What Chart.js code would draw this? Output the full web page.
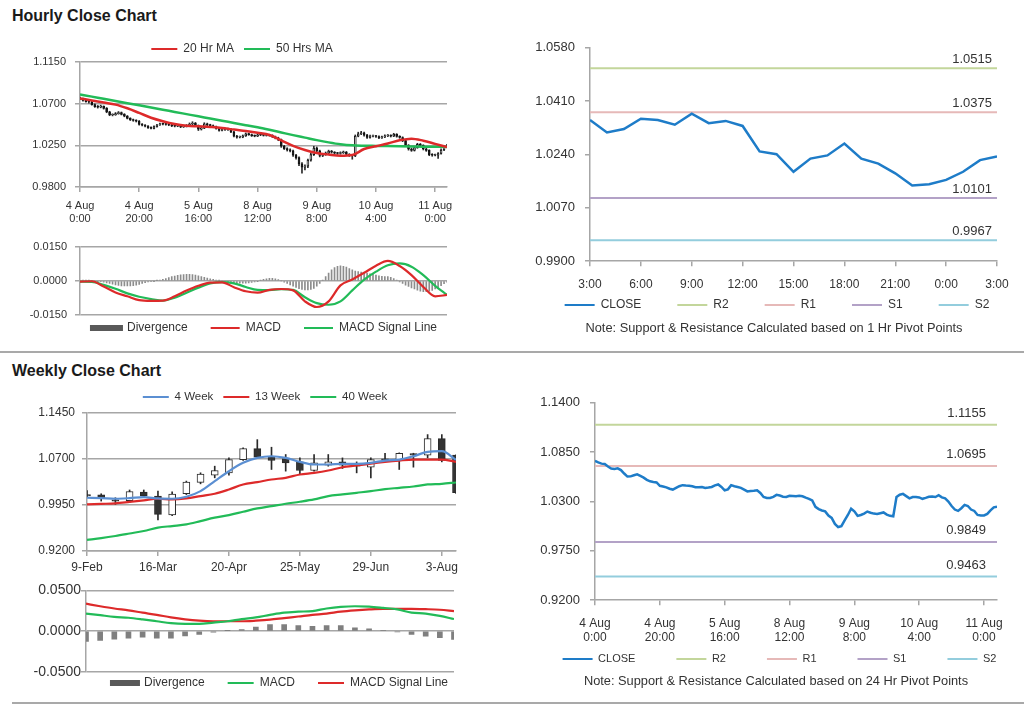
<!DOCTYPE html>
<html>
<head>
<meta charset="utf-8">
<title>Hourly and Weekly Close Charts</title>
<script src="https://cdn.jsdelivr.net/npm/chart.js@4.4.1/dist/chart.umd.min.js"></script>
<style>
  html, body { margin: 0; padding: 0; background: #fff; }
  body { position: relative; width: 1024px; height: 706px; overflow: hidden; font-family: "Liberation Sans", Arial, sans-serif; }
  canvas { position: absolute; }
  .heading { position: absolute; left: 12px; margin: 0; font-size: 16px; font-weight: bold; color: #1a1a1a; line-height: normal; }
  .rule { position: absolute; height: 2px; background: #a9a9a9; }
</style>
</head>
<body>
<h2 class="heading" style="top:7px">Hourly Close Chart</h2>
<h2 class="heading" style="top:362px">Weekly Close Chart</h2>
<div class="rule" style="left:0; top:351px; width:1024px"></div>
<div class="rule" style="left:12px; top:702px; width:1012px"></div>

<canvas id="hourlyCandles" width="484" height="200" style="left:0; top:30px"></canvas>
<canvas id="hourlyMacd" width="484" height="108" style="left:0; top:232px"></canvas>
<canvas id="hourlyPivot" width="624" height="312" style="left:400px; top:30px"></canvas>
<canvas id="weeklyCandles" width="470" height="200" style="left:0; top:380px"></canvas>
<canvas id="weeklyMacd" width="470" height="118" style="left:0; top:582px"></canvas>
<canvas id="dailyPivot" width="624" height="315" style="left:400px; top:385px"></canvas>

<script>
// ---- hourly bars, 4 Aug 0:00 .. 11 Aug 4:00 (one entry per trading hour)
const hourlyTickLabels = [['4 Aug', '0:00'], ['4 Aug', '20:00'], ['5 Aug', '16:00'], ['8 Aug', '12:00'], ['9 Aug', '8:00'], ['10 Aug', '4:00'], ['11 Aug', '0:00']];
const hoursPerTick = 20;
const hourlyPriceTicks = [0.9800, 1.0250, 1.0700, 1.1150];

const hourlyOpen = [
  1.0760, 1.0753, 1.0735, 1.0722, 1.0718, 1.0690, 1.0668, 1.0663, 1.0670, 1.0650,
  1.0612, 1.0578, 1.0580, 1.0592, 1.0603, 1.0585, 1.0566, 1.0541, 1.0525, 1.0518,
  1.0512, 1.0475, 1.0468, 1.0458, 1.0442, 1.0433, 1.0452, 1.0470, 1.0482, 1.0478,
  1.0476, 1.0470, 1.0460, 1.0458, 1.0462, 1.0450, 1.0455, 1.0462, 1.0480, 1.0490,
  1.0462, 1.0425, 1.0435, 1.0482, 1.0470, 1.0462, 1.0452, 1.0432, 1.0412, 1.0418,
  1.0420, 1.0425, 1.0395, 1.0350, 1.0339, 1.0339, 1.0352, 1.0374, 1.0366, 1.0354,
  1.0350, 1.0363, 1.0362, 1.0358, 1.0363, 1.0358, 1.0343, 1.0330, 1.0312, 1.0240,
  1.0215, 1.0200, 1.0190, 1.0143, 1.0117, 1.0050, 1.0015, 1.0025, 1.0090, 1.0150,
  1.0220, 1.0190, 1.0140, 1.0150, 1.0166, 1.0188, 1.0175, 1.0165, 1.0162, 1.0170,
  1.0178, 1.0154, 1.0140, 1.0135, 1.0350, 1.0375, 1.0385, 1.0360, 1.0335, 1.0350,
  1.0350, 1.0345, 1.0330, 1.0340, 1.0352, 1.0356, 1.0350, 1.0370, 1.0346, 1.0335,
  1.0300, 1.0250, 1.0210, 1.0195, 1.0225, 1.0262, 1.0250, 1.0210, 1.0195, 1.0150,
  1.0143, 1.0145, 1.0162, 1.0200, 1.0235];
const hourlyHigh = [
  1.0772, 1.0760, 1.0742, 1.0731, 1.0725, 1.0698, 1.0680, 1.0684, 1.0676, 1.0658,
  1.0618, 1.0590, 1.0604, 1.0615, 1.0610, 1.0592, 1.0572, 1.0548, 1.0534, 1.0526,
  1.0518, 1.0484, 1.0475, 1.0464, 1.0450, 1.0460, 1.0478, 1.0490, 1.0491, 1.0486,
  1.0484, 1.0477, 1.0469, 1.0472, 1.0470, 1.0464, 1.0474, 1.0492, 1.0505, 1.0497,
  1.0470, 1.0448, 1.0494, 1.0490, 1.0478, 1.0470, 1.0458, 1.0440, 1.0428, 1.0430,
  1.0436, 1.0430, 1.0402, 1.0358, 1.0350, 1.0362, 1.0384, 1.0382, 1.0372, 1.0362,
  1.0372, 1.0371, 1.0369, 1.0372, 1.0370, 1.0364, 1.0350, 1.0338, 1.0318, 1.0250,
  1.0224, 1.0212, 1.0198, 1.0152, 1.0125, 1.0065, 1.0040, 1.0102, 1.0165, 1.0240,
  1.0232, 1.0198, 1.0162, 1.0178, 1.0198, 1.0195, 1.0182, 1.0174, 1.0180, 1.0188,
  1.0184, 1.0160, 1.0150, 1.0362, 1.0392, 1.0400, 1.0392, 1.0368, 1.0360, 1.0361,
  1.0358, 1.0352, 1.0350, 1.0364, 1.0366, 1.0364, 1.0380, 1.0376, 1.0354, 1.0342,
  1.0308, 1.0258, 1.0220, 1.0236, 1.0272, 1.0270, 1.0256, 1.0218, 1.0202, 1.0160,
  1.0156, 1.0172, 1.0212, 1.0245, 1.0262];
const hourlyLow = [
  1.0745, 1.0728, 1.0715, 1.0706, 1.0684, 1.0660, 1.0652, 1.0655, 1.0641, 1.0602,
  1.0570, 1.0568, 1.0574, 1.0586, 1.0578, 1.0558, 1.0535, 1.0518, 1.0510, 1.0502,
  1.0468, 1.0460, 1.0450, 1.0434, 1.0426, 1.0428, 1.0446, 1.0465, 1.0470, 1.0468,
  1.0462, 1.0452, 1.0449, 1.0451, 1.0441, 1.0443, 1.0448, 1.0456, 1.0472, 1.0452,
  1.0410, 1.0415, 1.0430, 1.0461, 1.0452, 1.0444, 1.0424, 1.0404, 1.0405, 1.0410,
  1.0412, 1.0386, 1.0340, 1.0328, 1.0330, 1.0332, 1.0346, 1.0358, 1.0346, 1.0342,
  1.0344, 1.0354, 1.0350, 1.0350, 1.0349, 1.0335, 1.0320, 1.0300, 1.0228, 1.0205,
  1.0188, 1.0178, 1.0130, 1.0100, 1.0030, 0.9950, 0.9985, 1.0010, 1.0080, 1.0140,
  1.0175, 1.0125, 1.0128, 1.0142, 1.0160, 1.0166, 1.0156, 1.0152, 1.0154, 1.0162,
  1.0146, 1.0130, 1.0100, 1.0128, 1.0342, 1.0366, 1.0350, 1.0326, 1.0328, 1.0340,
  1.0336, 1.0322, 1.0324, 1.0334, 1.0344, 1.0340, 1.0344, 1.0338, 1.0326, 1.0290,
  1.0238, 1.0198, 1.0185, 1.0188, 1.0218, 1.0240, 1.0200, 1.0185, 1.0138, 1.0132,
  1.0135, 1.0110, 1.0155, 1.0192, 1.0228];
const hourlyClose = [
  1.0753, 1.0735, 1.0722, 1.0718, 1.0690, 1.0668, 1.0663, 1.0670, 1.0650, 1.0612,
  1.0578, 1.0580, 1.0592, 1.0603, 1.0585, 1.0566, 1.0541, 1.0525, 1.0518, 1.0512,
  1.0475, 1.0468, 1.0458, 1.0442, 1.0433, 1.0452, 1.0470, 1.0482, 1.0478, 1.0476,
  1.0470, 1.0460, 1.0458, 1.0462, 1.0450, 1.0455, 1.0462, 1.0480, 1.0490, 1.0462,
  1.0425, 1.0435, 1.0482, 1.0470, 1.0462, 1.0452, 1.0432, 1.0412, 1.0418, 1.0420,
  1.0425, 1.0395, 1.0350, 1.0339, 1.0339, 1.0352, 1.0374, 1.0366, 1.0354, 1.0350,
  1.0363, 1.0362, 1.0358, 1.0363, 1.0358, 1.0343, 1.0330, 1.0312, 1.0240, 1.0215,
  1.0200, 1.0190, 1.0143, 1.0117, 1.0050, 1.0015, 1.0025, 1.0090, 1.0150, 1.0220,
  1.0190, 1.0140, 1.0150, 1.0166, 1.0188, 1.0175, 1.0165, 1.0162, 1.0170, 1.0178,
  1.0154, 1.0140, 1.0135, 1.0350, 1.0375, 1.0385, 1.0360, 1.0335, 1.0350, 1.0350,
  1.0345, 1.0330, 1.0340, 1.0352, 1.0356, 1.0350, 1.0370, 1.0346, 1.0335, 1.0300,
  1.0250, 1.0210, 1.0195, 1.0225, 1.0262, 1.0250, 1.0210, 1.0195, 1.0150, 1.0143,
  1.0145, 1.0162, 1.0200, 1.0235, 1.0243];

// moving averages and MACD read every 4th hour
const hoursPerReading = 4;
const hourlyMa20 = [1.0757, 1.0735, 1.0712, 1.0690, 1.0650, 1.0600, 1.0548, 1.0510, 1.0480, 1.0462, 1.0455, 1.0448, 1.0438, 1.0420, 1.0405, 1.0385,
  1.0362, 1.0303, 1.0245, 1.0200, 1.0168, 1.0150, 1.0137, 1.0145, 1.0210, 1.0240, 1.0270, 1.0305, 1.0322, 1.0300, 1.0266, 1.0232];
const hourlyMa50 = [1.0800, 1.0776, 1.0753, 1.0729, 1.0705, 1.0682, 1.0658, 1.0634, 1.0611, 1.0587, 1.0563, 1.0540, 1.0516, 1.0492, 1.0468, 1.0445,
  1.0418, 1.0389, 1.0360, 1.0333, 1.0306, 1.0282, 1.0262, 1.0250, 1.0246, 1.0244, 1.0242, 1.0240, 1.0238, 1.0236, 1.0235, 1.0233];
const hourlyMacdTicks = [-0.0150, 0.0000, 0.0150];
const hourlyMacd = [-0.0004, -0.0002, -0.0025, -0.0051, -0.0068, -0.0085, -0.0088, -0.0087, -0.0068, -0.0043, -0.0022, -0.0008, -0.0007, -0.0028, -0.0046, -0.0052,
  -0.0040, -0.0036, -0.0042, -0.0090, -0.0115, -0.0090, -0.0020, 0.0006, 0.0035, 0.0066, 0.0087, 0.0065, 0.0025, -0.0027, -0.0068, -0.0062];
const hourlySignal = [-0.0004, -0.0005, -0.0018, -0.0035, -0.0055, -0.0070, -0.0080, -0.0087, -0.0074, -0.0052, -0.0030, -0.0012, -0.0006, -0.0011, -0.0027, -0.0040,
  -0.0041, -0.0037, -0.0040, -0.0072, -0.0098, -0.0105, -0.0090, -0.0042, 0.0005, 0.0040, 0.0068, 0.0076, 0.0062, 0.0025, -0.0022, -0.0062];
const hourlyDivergence = [
  0.0000, 0.0001, 0.0001, 0.0001, 0.0000, -0.0001, -0.0002, -0.0004, -0.0006, -0.0009,
  -0.0012, -0.0015, -0.0018, -0.0020, -0.0022, -0.0023, -0.0023, -0.0022, -0.0021, -0.0019,
  -0.0016, -0.0012, -0.0008, -0.0005, -0.0003, -0.0001, 0.0001, 0.0003, 0.0006, 0.0010,
  0.0014, 0.0018, 0.0021, 0.0024, 0.0026, 0.0027, 0.0028, 0.0028, 0.0027, 0.0025,
  0.0022, 0.0019, 0.0015, 0.0012, 0.0009, 0.0006, 0.0003, 0.0001, -0.0001, -0.0003,
  -0.0005, -0.0007, -0.0008, -0.0009, -0.0010, -0.0010, -0.0010, -0.0009, -0.0007, -0.0005,
  -0.0002, 0.0002, 0.0006, 0.0009, 0.0011, 0.0011, 0.0009, 0.0005, 0.0000, -0.0006,
  -0.0012, -0.0018, -0.0024, -0.0029, -0.0034, -0.0038, -0.0040, -0.0040, -0.0038, -0.0033,
  -0.0024, -0.0012, 0.0002, 0.0018, 0.0034, 0.0048, 0.0058, 0.0064, 0.0066, 0.0064,
  0.0060, 0.0054, 0.0048, 0.0043, 0.0040, 0.0038, 0.0036, 0.0034, 0.0031, 0.0028,
  0.0025, 0.0022, 0.0020, 0.0019, 0.0018, 0.0015, 0.0010, 0.0003, -0.0005, -0.0012,
  -0.0019, -0.0025, -0.0031, -0.0036, -0.0041, -0.0045, -0.0048, -0.0048, -0.0046, -0.0042,
  -0.0036, -0.0029, -0.0021, -0.0013, -0.0006];

// ---- last 24 hours with 1 hr pivots
const pivotTickLabels = ['3:00', '6:00', '9:00', '12:00', '15:00', '18:00', '21:00', '0:00', '3:00'];
const hoursPerPivotTick = 3;
const hourPivotTicks = [0.9900, 1.0070, 1.0240, 1.0410, 1.0580];
const pivotHourClose = [1.0350, 1.0310, 1.0321, 1.0354, 1.0350, 1.0335, 1.0370, 1.0340, 1.0347, 1.0331, 1.0250, 1.0241, 1.0185,
  1.0227, 1.0237, 1.0275, 1.0227, 1.0211, 1.0180, 1.0141, 1.0145, 1.0159, 1.0185, 1.0222, 1.0234];
const pivotNames = ['R2', 'R1', 'S1', 'S2'];
const pivotColors = ['#c3d69b', '#e6b9b8', '#b3a2c7', '#93cddd'];
const hourPivotLevels = [1.0515, 1.0375, 1.0101, 0.9967];

// ---- hourly close with 24 hr pivots
const dayPivotTicks = [0.9200, 0.9750, 1.0300, 1.0850, 1.1400];
const dayPivotLevels = [1.1155, 1.0695, 0.9849, 0.9463];

// ---- weekly bars, 9-Feb .. 10-Aug
const weeklyTickLabels = ['9-Feb', '16-Mar', '20-Apr', '25-May', '29-Jun', '3-Aug'];
const weeksPerTick = 5;
const weeklyPriceTicks = [0.9200, 0.9950, 1.0700, 1.1450];
const weeklyOpen = [1.0120, 1.0117, 1.0036, 1.0020, 1.0160, 1.0095, 0.9790, 1.0135, 1.0320, 1.0436, 1.0474, 1.0691, 1.0870, 1.0745,
  1.0707, 1.0653, 1.0512, 1.0599, 1.0653, 1.0610, 1.0566, 1.0702, 1.0691, 1.0789, 1.0762, 1.1033, 1.0762];
const weeklyHigh = [1.0185, 1.0133, 1.0068, 1.0195, 1.0195, 1.0176, 1.0165, 1.0340, 1.0475, 1.0583, 1.0718, 1.0881, 1.1016, 1.0892,
  1.0773, 1.0718, 1.0773, 1.0773, 1.0718, 1.0653, 1.0718, 1.0794, 1.0800, 1.0794, 1.1098, 1.1098, 1.0770];
const weeklyLow = [1.0080, 1.0014, 0.9960, 0.9995, 1.0080, 0.9705, 0.9775, 1.0120, 1.0295, 1.0393, 1.0436, 1.0675, 1.0718, 1.0529,
  1.0502, 1.0458, 1.0502, 1.0583, 1.0545, 1.0474, 1.0393, 1.0664, 1.0529, 1.0567, 1.0718, 1.0653, 1.0140];
const weeklyClose = [1.0098, 1.0062, 1.0014, 1.0170, 1.0100, 0.9797, 1.0130, 1.0325, 1.0455, 1.0512, 1.0691, 1.0870, 1.0729, 1.0675,
  1.0637, 1.0512, 1.0637, 1.0653, 1.0599, 1.0583, 1.0691, 1.0686, 1.0794, 1.0762, 1.1033, 1.0675, 1.0149];
const weeklyMa4 = [1.0068, 1.0062, 1.0052, 1.0062, 1.0079, 1.0057, 1.0052, 1.0084, 1.0176, 1.0339, 1.0501, 1.0637, 1.0718, 1.0745,
  1.0718, 1.0653, 1.0610, 1.0610, 1.0621, 1.0621, 1.0637, 1.0675, 1.0691, 1.0745, 1.0816, 1.0827, 1.0686];
const weeklyMa13 = [0.9960, 0.9968, 0.9976, 1.0000, 1.0025, 1.0052, 1.0041, 1.0057, 1.0095, 1.0133, 1.0203, 1.0285, 1.0323, 1.0366,
  1.0393, 1.0447, 1.0474, 1.0512, 1.0566, 1.0594, 1.0626, 1.0653, 1.0675, 1.0691, 1.0691, 1.0691, 1.0653];
const weeklyMa40 = [0.9380, 0.9410, 0.9445, 0.9485, 0.9526, 0.9580, 0.9607, 0.9634, 0.9688, 0.9743, 0.9786, 0.9840, 0.9894, 0.9932,
  0.9970, 1.0003, 1.0041, 1.0095, 1.0122, 1.0149, 1.0176, 1.0209, 1.0230, 1.0252, 1.0285, 1.0295, 1.0317];
const weeklyMacdTicks = [-0.0500, 0.0000, 0.0500];
const weeklyMacd = [0.0216, 0.0196, 0.0176, 0.0165, 0.0145, 0.0122, 0.0098, 0.0090, 0.0090, 0.0106, 0.0122, 0.0149, 0.0169, 0.0200,
  0.0227, 0.0239, 0.0247, 0.0278, 0.0298, 0.0306, 0.0302, 0.0286, 0.0267, 0.0227, 0.0216, 0.0188, 0.0149];
const weeklySignal = [0.0337, 0.0306, 0.0278, 0.0255, 0.0227, 0.0200, 0.0169, 0.0145, 0.0129, 0.0122, 0.0122, 0.0122, 0.0129, 0.0141,
  0.0161, 0.0180, 0.0200, 0.0216, 0.0239, 0.0255, 0.0267, 0.0274, 0.0274, 0.0274, 0.0270, 0.0263, 0.0247];
const weeklyDivergence = [-0.0125, -0.0114, -0.0098, -0.0086, -0.0074, -0.0086, -0.0086, -0.0059, -0.0039, -0.0012, 0.0005, 0.0020, 0.0050, 0.0080,
  0.0082, 0.0070, 0.0060, 0.0068, 0.0068, 0.0042, 0.0030, 0.0012, -0.0010, -0.0040, -0.0062, -0.0080, -0.0100];

// ---- styling
const FONT = '"Liberation Sans", Arial, sans-serif';
const TEXT = '#333';
const GRID = '#a6a6a6';
const RED = '#dd2a2a';
const GREEN = '#22bb58';
const BLUE = '#1e7cc8';
const SOFT_BLUE = '#5b8fd2';
const CANDLE = '#2a2a2a';

Chart.defaults.font.family = FONT;
Chart.defaults.color = TEXT;
Chart.defaults.animation = false;
Chart.defaults.events = [];
Chart.defaults.elements.point.radius = 0;
Chart.defaults.plugins.tooltip.enabled = false;

// move legend / note to the spot where they sit in the picture (page coords)
const placeBoxes = {
  id: 'placeBoxes',
  afterLayout(chart, args, opts) {
    const ox = chart.canvas.offsetLeft, oy = chart.canvas.offsetTop;
    const lg = chart.legend;
    if (lg && opts.legendAt) {
      const lab = lg.options.labels;
      const mid = lg.top + lab.padding + Math.max(lab.font.size, lab.boxHeight) / 2;
      const dx = opts.legendAt[0] - ox - (lg.left + lg.right) / 2;
      const dy = opts.legendAt[1] - oy - mid;
      lg.left += dx; lg.right += dx; lg.top += dy;
      lg.bottom = lg.top + 2 * lab.padding + 30;   // legend clips to its box
    }
    const tb = chart.titleBlock;
    if (tb && opts.titleAt) {
      const dx = opts.titleAt[0] - ox - (tb.left + tb.right) / 2;
      const dy = opts.titleAt[1] - oy - (tb.top + tb.bottom) / 2;
      tb.left += dx; tb.right += dx; tb.top += dy; tb.bottom += dy;
    }
  }
};

// value written above each pivot line
const levelLabels = {
  id: 'levelLabels',
  afterDatasetsDraw(chart, args, opts) {
    if (!opts.levels) return;
    const { ctx, chartArea, scales } = chart;
    ctx.save();
    ctx.font = '13px ' + FONT;
    ctx.fillStyle = TEXT;
    ctx.textAlign = 'right';
    ctx.textBaseline = 'middle';
    opts.levels.forEach(v => ctx.fillText(v.toFixed(4), chartArea.right - opts.inset, scales.y.getPixelForValue(v) - opts.lift));
    ctx.restore();
  }
};
Chart.register(placeBoxes, levelLabels);

function valueAxis(ticks, width, size, pad, grid) {
  return {
    type: 'linear', position: 'left',
    min: ticks[0], max: ticks[ticks.length - 1],
    afterBuildTicks: s => { s.ticks = ticks.map(v => ({ value: v })); },
    afterFit: s => { s.width = width; },
    ticks: { font: { size }, color: TEXT, padding: pad, callback: v => Number(v).toFixed(4) },
    grid: { drawOnChartArea: grid, color: GRID, lineWidth: 1.5, tickLength: 5 },
    border: { color: GRID, width: 1.5 }
  };
}

function indexAxis(max, tickAt, labels, height, size, pad) {
  return {
    type: 'linear', min: 0, max, offset: false,
    afterBuildTicks: s => { s.ticks = tickAt.map(v => ({ value: v })); },
    afterFit: s => { s.height = height; },
    ticks: { font: { size }, color: TEXT, padding: pad, autoSkip: false, maxRotation: 0, callback: (v, i) => labels[i] },
    grid: { drawOnChartArea: false, color: GRID, lineWidth: 1.5, tickLength: 5, offset: false },
    border: { color: GRID, width: 1.5 }
  };
}

function hiddenAxis(max) {
  return { type: 'linear', min: 0, max, offset: false, display: false, grid: { offset: false } };
}

function legendOpts(position, size, boxWidth, padding, names) {
  return {
    position, maxHeight: 4,
    labels: {
      font: { size }, color: TEXT, boxWidth, boxHeight: 2, padding,
      filter: item => names.includes(item.text),
      sort: (a, b) => a.datasetIndex - b.datasetIndex,
      generateLabels: chart => Chart.defaults.plugins.legend.labels.generateLabels(chart).map(item => {
        const ds = chart.data.datasets[item.datasetIndex];
        const c = ds.legendColor || ds.borderColor;
        return Object.assign(item, { fillStyle: c, strokeStyle: c, lineWidth: ds.legendColor ? 4 : 0 });
      })
    }
  };
}

const byIndex = vals => vals.map((v, i) => ({ x: i, y: v }));
const everyFour = vals => vals.map((v, i) => ({ x: i * hoursPerReading, y: v }));
const line = (label, data, color, width, extra) => Object.assign({ label, type: 'line', data, borderColor: color, backgroundColor: color, borderWidth: width, order: 0 }, extra || {});
const smooth = { cubicInterpolationMode: 'monotone' };

const hourlyTickAt = hourlyTickLabels.map((_, i) => i * hoursPerTick);
const lastHour = hourlyClose.length - 1;

// ---- hourly candles with moving averages
new Chart(document.getElementById('hourlyCandles'), {
  type: 'bar',
  data: {
    datasets: [
      line('20 Hr MA', everyFour(hourlyMa20), RED, 2.5, smooth),
      line('50 Hrs MA', everyFour(hourlyMa50), GREEN, 2.5, smooth),
      { label: 'range', data: hourlyLow.map((lo, i) => ({ x: i, y: [lo, hourlyHigh[i]] })), backgroundColor: CANDLE, barThickness: 1, grouped: false, order: 3 },
      { label: 'body', data: hourlyOpen.map((o, i) => ({ x: i, y: [o, hourlyClose[i]] })),
        backgroundColor: c => hourlyClose[c.dataIndex] >= hourlyOpen[c.dataIndex] ? '#fff' : '#111',
        borderColor: '#111', borderWidth: 1, borderSkipped: false, barThickness: 2, minBarLength: 1, grouped: false, order: 2 }
    ]
  },
  options: {
    responsive: false,
    layout: { padding: { top: 28, right: 37, bottom: 0, left: 0 } },
    scales: {
      x: indexAxis(lastHour, hourlyTickAt, hourlyTickLabels, 43, 11, 7),
      y: valueAxis(hourlyPriceTicks, 80, 11, 9, true)
    },
    plugins: {
      legend: legendOpts('top', 12, 26, 10, ['20 Hr MA', '50 Hrs MA']),
      placeBoxes: { legendAt: [242, 49] }
    }
  }
});

// ---- hourly MACD
new Chart(document.getElementById('hourlyMacd'), {
  type: 'bar',
  data: {
    datasets: [
      { label: 'Divergence', data: byIndex(hourlyDivergence), backgroundColor: '#8c8c8c', borderColor: '#8c8c8c', legendColor: '#595959', barThickness: 1, order: 2 },
      line('MACD', everyFour(hourlyMacd), RED, 2.2, smooth),
      line('MACD Signal Line', everyFour(hourlySignal), GREEN, 2.2, smooth)
    ]
  },
  options: {
    responsive: false,
    layout: { padding: { top: 10, right: 37, bottom: 21, left: 0 } },
    scales: { x: hiddenAxis(lastHour), y: valueAxis(hourlyMacdTicks, 80, 11, 8, true) },
    plugins: {
      legend: legendOpts('bottom', 12, 29, 23, ['Divergence', 'MACD', 'MACD Signal Line']),
      placeBoxes: { legendAt: [264.5, 328] }
    }
  }
});

function pivotDatasets(levels, lastX) {
  return levels.map((lvl, i) => line(pivotNames[i], [{ x: 0, y: lvl }, { x: lastX, y: lvl }], pivotColors[i], 2, { order: 1 }));
}

// ---- last 24 hours, 1 hr pivots
const lastPivotHour = pivotHourClose.length - 1;
new Chart(document.getElementById('hourlyPivot'), {
  type: 'line',
  data: {
    datasets: [line('CLOSE', byIndex(pivotHourClose), BLUE, 2.5)].concat(pivotDatasets(hourPivotLevels, lastPivotHour))
  },
  options: {
    responsive: false,
    layout: { padding: { top: 14, right: 27, bottom: 34, left: 0 } },
    scales: {
      x: indexAxis(lastPivotHour, pivotTickLabels.map((_, i) => i * hoursPerPivotTick), pivotTickLabels, 30, 12, 11),
      y: valueAxis(hourPivotTicks, 190, 13, 10, false)
    },
    plugins: {
      legend: legendOpts('bottom', 12, 30, 36, ['CLOSE'].concat(pivotNames)),
      title: { display: true, position: 'bottom', text: 'Note: Support & Resistance Calculated based on 1 Hr Pivot Points', font: { size: 12.8, weight: 'normal', lineHeight: 1 }, color: TEXT, padding: 0 },
      placeBoxes: { legendAt: [777, 305], titleAt: [774, 328] },
      levelLabels: { levels: hourPivotLevels, inset: 5, lift: 9 }
    }
  }
});

// ---- weekly candles with moving averages
const lastWeek = weeklyClose.length - 1;
new Chart(document.getElementById('weeklyCandles'), {
  type: 'bar',
  data: {
    datasets: [
      line('4 Week', byIndex(weeklyMa4), SOFT_BLUE, 2.2, smooth),
      line('13 Week', byIndex(weeklyMa13), RED, 2.2, smooth),
      line('40 Week', byIndex(weeklyMa40), GREEN, 2.2, smooth),
      { label: 'range', data: weeklyLow.map((lo, i) => ({ x: i, y: [lo, weeklyHigh[i]] })), backgroundColor: CANDLE, barThickness: 1, grouped: false, clip: 0, order: 3 },
      { label: 'body', data: weeklyOpen.map((o, i) => ({ x: i, y: [o, weeklyClose[i]] })),
        backgroundColor: c => weeklyClose[c.dataIndex] >= weeklyOpen[c.dataIndex] ? '#fff' : '#333',
        borderColor: CANDLE, borderWidth: 1, borderSkipped: false, barThickness: 7, minBarLength: 1, grouped: false, clip: 0, order: 2 }
    ]
  },
  options: {
    responsive: false,
    layout: { padding: { top: 29, right: 14, bottom: 0, left: 0 } },
    scales: {
      x: indexAxis(lastWeek, weeklyTickLabels.map((_, i) => i * weeksPerTick), weeklyTickLabels, 29, 12, 4),
      y: valueAxis(weeklyPriceTicks, 87, 12, 7, true)
    },
    plugins: {
      legend: legendOpts('top', 11.5, 26, 10, ['4 Week', '13 Week', '40 Week']),
      placeBoxes: { legendAt: [265, 397] }
    }
  }
});

// ---- weekly MACD
new Chart(document.getElementById('weeklyMacd'), {
  type: 'bar',
  data: {
    datasets: [
      { label: 'Divergence', data: byIndex(weeklyDivergence), backgroundColor: '#7f7f7f', borderColor: '#7f7f7f', legendColor: '#595959', barThickness: 5, clip: 0, order: 2 },
      line('MACD', byIndex(weeklyMacd), GREEN, 2.2, smooth),
      line('MACD Signal Line', byIndex(weeklySignal), RED, 2.2, smooth)
    ]
  },
  options: {
    responsive: false,
    layout: { padding: { top: 6, right: 16, bottom: 24, left: 0 } },
    scales: { x: hiddenAxis(lastWeek), y: valueAxis(weeklyMacdTicks, 86, 14, 0, true) },
    plugins: {
      legend: legendOpts('bottom', 12, 26, 23, ['Divergence', 'MACD', 'MACD Signal Line']),
      placeBoxes: { legendAt: [280, 683] }
    }
  }
});

// ---- hourly close, 24 hr pivots
new Chart(document.getElementById('dailyPivot'), {
  type: 'line',
  data: {
    datasets: [line('CLOSE', byIndex(hourlyClose), BLUE, 2.5)].concat(pivotDatasets(dayPivotLevels, lastHour))
  },
  options: {
    responsive: false,
    layout: { padding: { top: 17, right: 27, bottom: 38, left: 0 } },
    scales: {
      x: indexAxis(lastHour, hourlyTickAt, hourlyTickLabels, 45, 12, 11),
      y: valueAxis(dayPivotTicks, 195, 13, 10, false)
    },
    plugins: {
      legend: legendOpts('bottom', 11, 30, 41, ['CLOSE'].concat(pivotNames)),
      title: { display: true, position: 'bottom', text: 'Note: Support & Resistance Calculated based on 24 Hr Pivot Points', font: { size: 12.8, weight: 'normal', lineHeight: 1 }, color: TEXT, padding: 0 },
      placeBoxes: { legendAt: [779.5, 659], titleAt: [776, 681] },
      levelLabels: { levels: dayPivotLevels, inset: 11, lift: 11.5 }
    }
  }
});
</script>
</body>
</html>
